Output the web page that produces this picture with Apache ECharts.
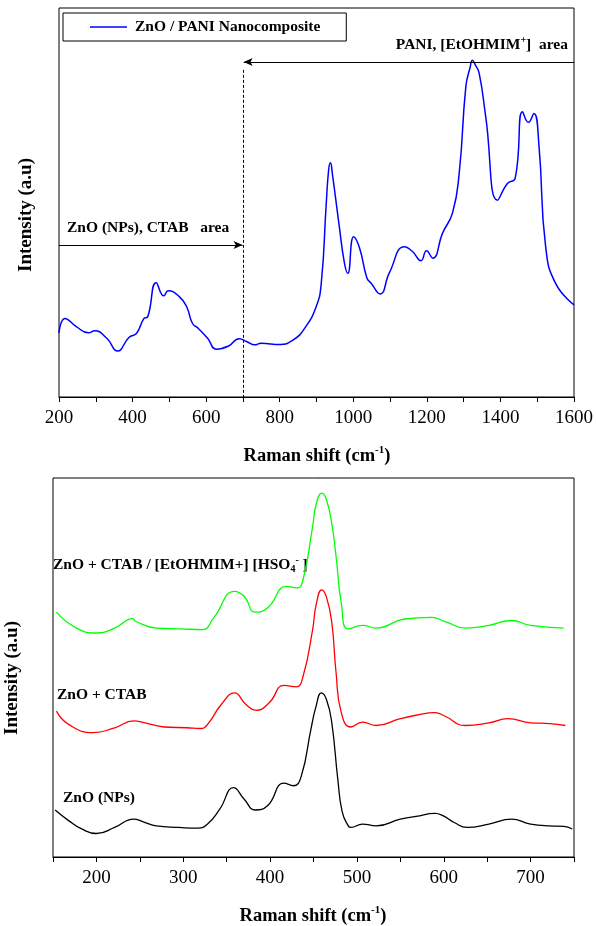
<!DOCTYPE html>
<html><head><meta charset="utf-8">
<script src="https://cdn.jsdelivr.net/npm/echarts@6/dist/echarts.min.js"></script>
<style>html,body{margin:0;padding:0;background:#fff}#c{width:596px;height:926px}</style>
</head><body><div id="c"></div>
<script>
// ---- Top panel: ZnO / PANI nanocomposite Raman spectrum ----
const topShift = [200,216,247,280,297,330,359,390,411,431,441,464,485,497,527,547,563,578,604,628,661,690,711,732,749,801,837,868,899,913,926,933,938,943,962,976,985,1001,1017,1037,1048,1073,1098,1139,1161,1184,1199,1216,1243,1270,1288,1306,1317,1324,1331,1342,1360,1392,1419,1440,1460,1476,1491,1505,1523,1550,1600];
const topIntensity = [16.5,20.2,18.1,16.5,17.0,15.1,11.8,15.3,16.4,20.2,20.6,29.4,26.0,27.3,25.8,23.2,18.9,17.7,15.1,12.3,13.1,15.0,14.2,13.4,13.8,13.5,14.7,17.7,23.2,29.3,48.9,58.4,60.2,57.5,43.8,34.4,31.8,41.2,38.3,30.6,29.3,26.5,31.9,38.6,37.4,35.0,37.6,35.7,42.2,47.4,57.6,79.8,84.5,86.6,85.5,83.3,72.1,50.6,54.9,56.2,73.3,70.6,72.9,64.3,38.6,29.2,23.7];
const topTicks = [200,400,600,800,1000,1200,1400,1600];

// ---- Bottom panel: stacked spectra ----
const znoShift = [152.5,168,183,200,221,243,254,269,295,317,328,342,358,370,383,397,416,427,436,447,453,459,465,471,478,483,490,493,506.5,522,550,568,590,599,612,627,652,678,700,722,738,748];
const znoIntensity = [12.4,9.6,7.4,6.2,7.8,10.0,9.3,8.2,7.8,7.6,8.7,12.6,18.3,15.3,12.4,13.5,19.5,18.8,21.4,33.7,39.8,43.3,41.5,35.5,20.5,12.0,8.2,7.8,8.7,8.2,10.0,10.7,11.5,10.9,9.1,7.8,8.7,10.0,8.7,8.2,8.1,7.4];
const ctabShift = [154,168,196.5,221,243,256,278,304,320,328,344,359,372,384,399,416,430,438,449,453,459.5,465,471,476,482,493,506.5,522,550,568,590,601,625,652,674,700,722,740];
const ctabIntensity = [38.5,35.0,32.8,34.1,35.9,35.4,34.3,34.1,33.9,35.0,40.3,43.3,40.3,38.7,40.7,45.3,44.9,47.7,60.0,66.5,70.5,68.5,62.0,48.6,38.1,34.3,35.6,34.7,36.5,37.4,38.1,37.2,34.7,35.4,36.5,35.4,35.2,34.7];
const ilShift = [154,177,201,221,242,245,269,295,322,335,359,370,383,397,419,431,438,449,453,459.5,465,471,476,482,490,506.5,522,555,586,601,625,652,678,700,738];
const ilIntensity = [64.6,60.4,59.1,60.4,62.9,62.2,60.4,60.2,60.0,63.1,70.1,68.8,64.6,65.7,71.4,71.0,73.2,87.2,93.0,96.0,94.2,88.0,79.3,67.0,60.2,61.1,60.4,62.8,63.2,62.2,60.4,61.1,62.4,61.1,60.4];
const bottomTicks = [200,300,400,500,600,700];

const FONT = "'Liberation Serif','Times New Roman',serif";
const LBL = "bold 15.5px 'Liberation Serif', serif";
const pair = (xs, ys) => xs.map((x, i) => [x, ys[i]]);

const chart = echarts.init(document.getElementById('c'), null, {renderer: 'canvas'});
const xAxisBase = {
  type: 'value',
  axisLine: {show: true, onZero: false, lineStyle: {color: '#000', width: 1}},
  axisTick: {show: true, inside: false, length: 5, lineStyle: {color: '#000'}},
  splitLine: {show: false},
};
const titleRich = {b: {fontFamily: FONT, fontWeight: 'bold', fontSize: 18.5, fill: '#000'},
                   sup: {fontFamily: FONT, fontWeight: 'bold', fontSize: 11, fill: '#000', padding: [0,0,11,0]}};
chart.setOption({
  animation: false,
  backgroundColor: '#fff',
  grid: [
    {left: 59, top: 8, width: 516, height: 389, show: true, borderColor: '#000', borderWidth: 1, backgroundColor: 'transparent'},
    {left: 53, top: 478, width: 521, height: 379, show: true, borderColor: '#000', borderWidth: 1, backgroundColor: 'transparent'}
  ],
  legend: {
    data: [{name: 'ZnO / PANI Nanocomposite', icon: 'rect'}],
    left: 63, top: 13,
    borderColor: '#000', borderWidth: 1, borderRadius: 0,
    padding: [6, 26, 6, 27],
    itemWidth: 37, itemHeight: 1.5, itemGap: 0,
    textStyle: {fontFamily: FONT, fontWeight: 'bold', fontSize: 15.5, color: '#000', padding: [0,0,0,3], lineHeight: 14}
  },
  xAxis: [
    Object.assign({}, xAxisBase, {
      gridIndex: 0, min: 200, max: 1600, interval: 100,
      axisLabel: {margin: 12, fontFamily: FONT, fontSize: 19, color: '#000',
        formatter: v => topTicks.includes(v) ? String(v) : ''}
    }),
    Object.assign({}, xAxisBase, {
      gridIndex: 1, min: 150, max: 750, interval: 50,
      axisLabel: {margin: 12, fontFamily: FONT, fontSize: 19, color: '#000',
        formatter: v => bottomTicks.includes(v) ? String(v) : ''}
    })
  ],
  yAxis: [
    {type: 'value', gridIndex: 0, min: 0, max: 100, axisLine: {show: false}, axisTick: {show: false}, axisLabel: {show: false}, splitLine: {show: false}},
    {type: 'value', gridIndex: 1, min: 0, max: 100, axisLine: {show: false}, axisTick: {show: false}, axisLabel: {show: false}, splitLine: {show: false}}
  ],
  series: [
    {
      name: 'ZnO / PANI Nanocomposite', type: 'line', xAxisIndex: 0, yAxisIndex: 0,
      data: pair(topShift, topIntensity), symbol: 'none', smooth: 0.5,
      lineStyle: {color: '#0000ff', width: 1.5}, itemStyle: {color: '#0000ff'},
      markLine: {
        silent: true, animation: false,
        label: {show: false},
        data: [
          [{coord: [1600, 86.1], symbol: 'none', lineStyle: {type: 'solid', color: '#000', width: 1}},
           {coord: [702, 86.1], symbol: 'arrow', symbolSize: [6, 9]}],
          [{coord: [200, 39.1], symbol: 'none', lineStyle: {type: 'solid', color: '#000', width: 1}},
           {coord: [699, 39.1], symbol: 'arrow', symbolSize: [6, 9]}],
          [{coord: [700, 84.1], symbol: 'none', lineStyle: {type: [3, 2], color: '#000', width: 1}},
           {coord: [700, 0], symbol: 'none'}]
        ]
      }
    },
    {name: 'ZnO (NPs)', type: 'line', xAxisIndex: 1, yAxisIndex: 1, data: pair(znoShift, znoIntensity),
      symbol: 'none', smooth: 0.5, lineStyle: {color: '#000000', width: 1.3}},
    {name: 'ZnO + CTAB', type: 'line', xAxisIndex: 1, yAxisIndex: 1, data: pair(ctabShift, ctabIntensity),
      symbol: 'none', smooth: 0.5, lineStyle: {color: '#ff0000', width: 1.3}},
    {name: 'ZnO + CTAB / [EtOHMIM+] [HSO4- ]', type: 'line', xAxisIndex: 1, yAxisIndex: 1, data: pair(ilShift, ilIntensity),
      symbol: 'none', smooth: 0.5, lineStyle: {color: '#00ff00', width: 1.3}}
  ],
  graphic: [
    // top panel annotations
    {type: 'text', x: 568, y: 45, style: {
      text: '{b|PANI, [EtOHMIM}{sup|+}{b|]  area}', align: 'right', verticalAlign: 'middle',
      rich: {b: {fontFamily: FONT, fontWeight: 'bold', fontSize: 15.5, fill: '#000'},
             sup: {fontFamily: FONT, fontWeight: 'bold', fontSize: 10, fill: '#000', padding: [0,0,9,0]}}}},
    {type: 'text', x: 67, y: 228, style: {
      text: 'ZnO (NPs), CTAB   area', align: 'left', verticalAlign: 'middle', font: LBL, fill: '#000'}},
    {type: 'text', x: 26, y: 215, rotation: Math.PI / 2, style: {
      text: 'Intensity (a.u)', align: 'center', verticalAlign: 'middle',
      font: "bold 19px 'Liberation Serif', serif", fill: '#000'}},
    {type: 'text', x: 317, y: 456, style: {
      text: '{b|Raman shift (cm}{sup|-1}{b|)}', align: 'center', verticalAlign: 'middle', rich: titleRich}},
    // bottom panel annotations
    {type: 'text', x: 53, y: 565, style: {
      text: '{b|ZnO + CTAB / [EtOHMIM+] [HSO}{sub|4}{sup|-}{b| ]}', align: 'left', verticalAlign: 'middle',
      rich: {b: {fontFamily: FONT, fontWeight: 'bold', fontSize: 15.5, fill: '#000'},
             sub: {fontFamily: FONT, fontWeight: 'bold', fontSize: 10, fill: '#000', padding: [9,0,0,0]},
             sup: {fontFamily: FONT, fontWeight: 'bold', fontSize: 10, fill: '#000', padding: [0,0,9,0]}}}},
    {type: 'text', x: 57, y: 695, style: {
      text: 'ZnO + CTAB', align: 'left', verticalAlign: 'middle', font: LBL, fill: '#000'}},
    {type: 'text', x: 63, y: 798, style: {
      text: 'ZnO (NPs)', align: 'left', verticalAlign: 'middle', font: LBL, fill: '#000'}},
    {type: 'text', x: 12, y: 678, rotation: Math.PI / 2, style: {
      text: 'Intensity (a.u)', align: 'center', verticalAlign: 'middle',
      font: "bold 19px 'Liberation Serif', serif", fill: '#000'}},
    {type: 'text', x: 313, y: 916, style: {
      text: '{b|Raman shift (cm}{sup|-1}{b|)}', align: 'center', verticalAlign: 'middle', rich: titleRich}}
  ]
});
</script></body></html>
